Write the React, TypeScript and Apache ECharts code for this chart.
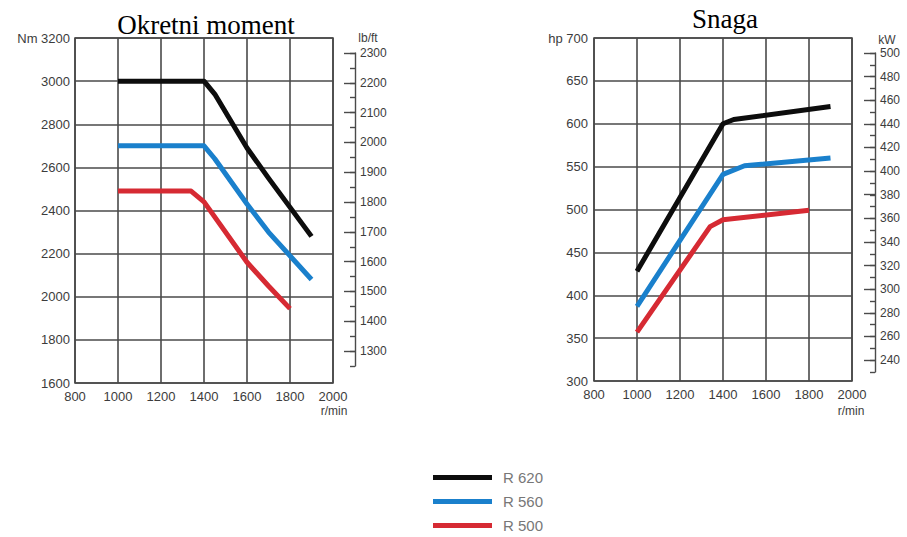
import React, { useEffect, useRef } from "react";
import * as echarts from "echarts";

// ---- Data ----
const seriesNames = ["R 620", "R 560", "R 500"];
const seriesColors = ["#0d0d0d", "#1a80cc", "#d62a33"];

// Torque (Nm) vs rpm
const torqueR620 = [[1000, 3000], [1400, 3000], [1450, 2940], [1600, 2690], [1700, 2550], [1900, 2280]];
const torqueR560 = [[1000, 2700], [1400, 2700], [1450, 2640], [1600, 2430], [1700, 2300], [1900, 2080]];
const torqueR500 = [[1000, 2490], [1340, 2490], [1400, 2440], [1600, 2160], [1700, 2050], [1800, 1945]];

// Power (hp) vs rpm
const powerR620 = [[1000, 428], [1400, 600], [1450, 605], [1900, 620]];
const powerR560 = [[1000, 387], [1400, 541], [1500, 551], [1900, 560]];
const powerR500 = [[1000, 357], [1340, 480], [1400, 488], [1800, 499]];

// Axis ranges
const rpmMin = 800, rpmMax = 2000, rpmStep = 200;
const nmMin = 1600, nmMax = 3200, nmStep = 200;
const hpMin = 300, hpMax = 700, hpStep = 50;
const lbftMajorMin = 1300, lbftMax = 2300, lbftMajorStep = 100;
const lbftMinorMin = 1250, lbftMinorStep = 50;
const kwMajorMin = 240, kwMax = 500, kwMajorStep = 20;
const kwMinorMin = 230, kwMinorStep = 10;

const titles = ["Okretni moment", "Snaga"];

const AX = "#3c3c3c";
const GRIDC = "#4a4a4a";
const FONT = "'Liberation Sans', Arial, sans-serif";

export default function App() {
  const ref = useRef<HTMLDivElement>(null);

  useEffect(() => {
    if (!ref.current) return;
    const chart = echarts.init(ref.current, undefined, { renderer: "svg" });

    const mainX = (gi: number) => ({
      type: "value",
      gridIndex: gi,
      min: rpmMin,
      max: rpmMax,
      interval: rpmStep,
      axisLine: { show: false },
      axisTick: { show: false },
      axisLabel: { color: AX, fontSize: 13, fontFamily: FONT, margin: 7, formatter: (v: number) => String(v) },
      splitLine: { show: true, lineStyle: { color: GRIDC, width: 1.6 } },
    });
    const hiddenX = (gi: number) => ({
      type: "value", gridIndex: gi, show: false, min: 10, max: 20,
      axisLine: { show: false, onZero: false },
    });
    const mainY = (gi: number, min: number, max: number, step: number, unit: string, margin: number) => ({
      type: "value",
      gridIndex: gi,
      min, max, interval: step,
      axisLine: { show: false },
      axisTick: { show: false },
      axisLabel: {
        color: AX, fontSize: 13, fontFamily: FONT, margin,
        formatter: (v: number) => (v === max ? unit + " " + v : String(v)),
      },
      splitLine: { show: true, lineStyle: { color: GRIDC, width: 1.6 } },
    });
    const majorY = (gi: number, min: number, max: number, step: number) => ({
      type: "value",
      gridIndex: gi,
      position: "right",
      min, max, interval: step,
      axisLine: { show: false, onZero: false },
      axisTick: { show: true, inside: true, length: 11, lineStyle: { color: GRIDC, width: 1.4 } },
      axisLabel: { color: AX, fontSize: 12, fontFamily: FONT, margin: 5, formatter: (v: number) => String(v) },
      splitLine: { show: false },
    });
    const minorY = (gi: number, min: number, max: number, step: number) => ({
      type: "value",
      gridIndex: gi,
      position: "right",
      min, max, interval: step,
      axisLine: { show: true, onZero: false, lineStyle: { color: GRIDC, width: 1.4 } },
      axisTick: { show: true, inside: true, length: 5, lineStyle: { color: GRIDC, width: 1.4 } },
      axisLabel: { show: false },
      splitLine: { show: false },
    });

    const mk = (name: string, color: string, data: number[][], xi: number, yi: number) => ({
      type: "line",
      name,
      xAxisIndex: xi,
      yAxisIndex: yi,
      data,
      symbol: "none",
      smooth: false,
      color,
      itemStyle: { color },
      lineStyle: { color, width: 5, cap: "butt", join: "round" },
    });

    chart.setOption({
      animation: false,
      title: [
        { text: titles[0], left: 201, textAlign: "center", top: 6,
          textStyle: { fontFamily: "'Liberation Serif', 'Times New Roman', serif", fontSize: 27, fontWeight: "normal", color: "#000" } },
        { text: titles[1], left: 720, textAlign: "center", top: 0,
          textStyle: { fontFamily: "'Liberation Serif', 'Times New Roman', serif", fontSize: 27, fontWeight: "normal", color: "#000" } },
      ],
      legend: {
        data: seriesNames,
        orient: "vertical",
        left: 428,
        top: 465,
        height: 140,
        icon: "rect",
        itemWidth: 59,
        itemHeight: 5,
        itemGap: 9,
        textStyle: { color: "#777", fontSize: 15, fontFamily: FONT, lineHeight: 15, padding: [0, 0, 0, 6] },
      },
      grid: [
        { left: 75, top: 38, width: 258, height: 345, show: true, borderColor: GRIDC, borderWidth: 1.6, backgroundColor: "transparent" },
        { left: 300, top: 53, width: 55, height: 298 },
        { left: 300, top: 53, width: 55, height: 313 },
        { left: 594, top: 38, width: 258, height: 343, show: true, borderColor: GRIDC, borderWidth: 1.6, backgroundColor: "transparent" },
        { left: 855, top: 53, width: 20, height: 307 },
        { left: 855, top: 53, width: 20, height: 319 },
      ],
      xAxis: [mainX(0), hiddenX(1), hiddenX(2), mainX(3), hiddenX(4), hiddenX(5)],
      yAxis: [
        mainY(0, nmMin, nmMax, nmStep, "Nm", 5),
        majorY(1, lbftMajorMin, lbftMax, lbftMajorStep),
        minorY(2, lbftMinorMin, lbftMax, lbftMinorStep),
        mainY(3, hpMin, hpMax, hpStep, "hp", 6),
        majorY(4, kwMajorMin, kwMax, kwMajorStep),
        minorY(5, kwMinorMin, kwMax, kwMinorStep),
      ],
      graphic: [
        { type: "text", x: 368, y: 38, style: { text: "lb/ft", fill: AX, font: "12px " + FONT, textAlign: "center", textVerticalAlign: "middle" } },
        { type: "text", x: 887, y: 40, style: { text: "kW", fill: AX, font: "12px " + FONT, textAlign: "center", textVerticalAlign: "middle" } },
        { type: "text", x: 334, y: 411, style: { text: "r/min", fill: AX, font: "12px " + FONT, textAlign: "center", textVerticalAlign: "middle" } },
        { type: "text", x: 851, y: 411, style: { text: "r/min", fill: AX, font: "12px " + FONT, textAlign: "center", textVerticalAlign: "middle" } },
      ],
      series: [
        mk(seriesNames[0], seriesColors[0], torqueR620, 0, 0),
        mk(seriesNames[1], seriesColors[1], torqueR560, 0, 0),
        mk(seriesNames[2], seriesColors[2], torqueR500, 0, 0),
        mk(seriesNames[0], seriesColors[0], powerR620, 3, 3),
        mk(seriesNames[1], seriesColors[1], powerR560, 3, 3),
        mk(seriesNames[2], seriesColors[2], powerR500, 3, 3),
      ],
    });

    return () => chart.dispose();
  }, []);

  return (
    <div
      ref={ref}
      style={{ position: "absolute", left: 0, top: 0, width: 907, height: 537, background: "#fff" }}
    />
  );
}
